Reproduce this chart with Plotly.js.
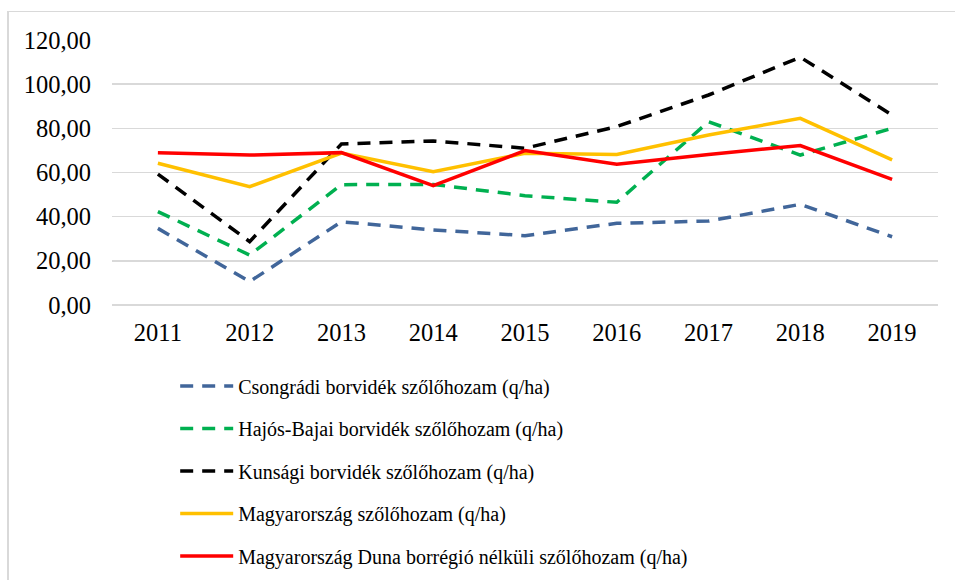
<!DOCTYPE html>
<html>
<head>
<meta charset="utf-8">
<script src="https://cdn.plot.ly/plotly-3.0.1.min.js"></script>
<style>
html,body{margin:0;padding:0;background:#fff;}
#frame{position:absolute;left:7px;top:11px;width:948px;height:569px;border-top:1px solid #d9d9d9;border-left:2px solid #d9d9d9;}
#chart{position:absolute;left:0;top:0;width:955px;height:580px;}
</style>
</head>
<body>
<div id="frame"></div>
<div id="chart"></div>
<script>
var years = ['2011','2012','2013','2014','2015','2016','2017','2018','2019'];
var csongradi = [34.7, 10.6, 37.7, 34.0, 31.4, 37.0, 38.0, 45.6, 30.9];
var hajosBajai = [42.3, 22.6, 54.5, 54.6, 49.5, 46.5, 83.0, 67.9, 80.0];
var kunsagi = [59.3, 28.7, 72.9, 74.3, 71.0, 80.8, 95.1, 112.2, 86.0];
var magyarorszag = [64.2, 53.6, 68.8, 60.4, 68.7, 68.2, 77.0, 84.5, 65.7];
var dunaNelkul = [69.0, 67.9, 69.0, 54.0, 69.9, 63.7, 68.2, 72.2, 56.9];
var names = [
  'Csongrádi borvidék szőlőhozam (q/ha)',
  'Hajós-Bajai borvidék szőlőhozam (q/ha)',
  'Kunsági borvidék szőlőhozam (q/ha)',
  'Magyarország szőlőhozam (q/ha)',
  'Magyarország Duna borrégió nélküli szőlőhozam (q/ha)'
];
var tickVals = [0, 20, 40, 60, 80, 100, 120];
var tickText = ['0,00','20,00','40,00','60,00','80,00','100,00','120,00'];

var series = [csongradi, hajosBajai, kunsagi, magyarorszag, dunaNelkul];
var colors = ['#41669a', '#00b050', '#000000', '#ffc000', '#ff0000'];
var dashes = ['13px,9px', '13px,9px', '13px,9px', 'solid', 'solid'];

var traces = series.map(function(s, i){
  return {
    x: years, y: s, type: 'scatter', mode: 'lines', name: names[i],
    legendgroup: 'g' + i,
    line: {color: colors[i], width: 3.5, dash: dashes[i]}
  };
});

var fam = 'Liberation Serif';

var layout = {
  width: 955, height: 580,
  margin: {l: 112, r: 17, t: 40, b: 275, autoexpand: false},
  paper_bgcolor: 'rgba(0,0,0,0)', plot_bgcolor: 'rgba(0,0,0,0)',
  font: {family: fam, size: 24, color: '#000'},
  showlegend: true,
  legend: {
    x: 0.0765, xanchor: 'left', y: -0.2325, yanchor: 'top',
    font: {family: fam, size: 20, color: '#000'},
    traceorder: 'grouped', tracegroupgap: 13.5, itemwidth: 53,
    bgcolor: 'rgba(0,0,0,0)'
  },
  xaxis: {
    type: 'category', range: [-0.5, 8.5], showgrid: false, zeroline: false,
    showline: false, ticks: '', ticklabelstandoff: 10,
    tickfont: {family: fam, size: 24.5, color: '#000'}
  },
  yaxis: {
    range: [0, 120], tickvals: tickVals, ticktext: tickText,
    showgrid: true, gridcolor: '#d9d9d9', gridwidth: 1.5,
    zeroline: true, zerolinecolor: '#d9d9d9', zerolinewidth: 1.5,
    showline: false, ticks: '', ticklabelstandoff: 20,
    tickfont: {family: fam, size: 24.5, color: '#000'}
  }
};

Plotly.newPlot('chart', traces, layout, {displayModeBar: false, staticPlot: true});
</script>
</body>
</html>
